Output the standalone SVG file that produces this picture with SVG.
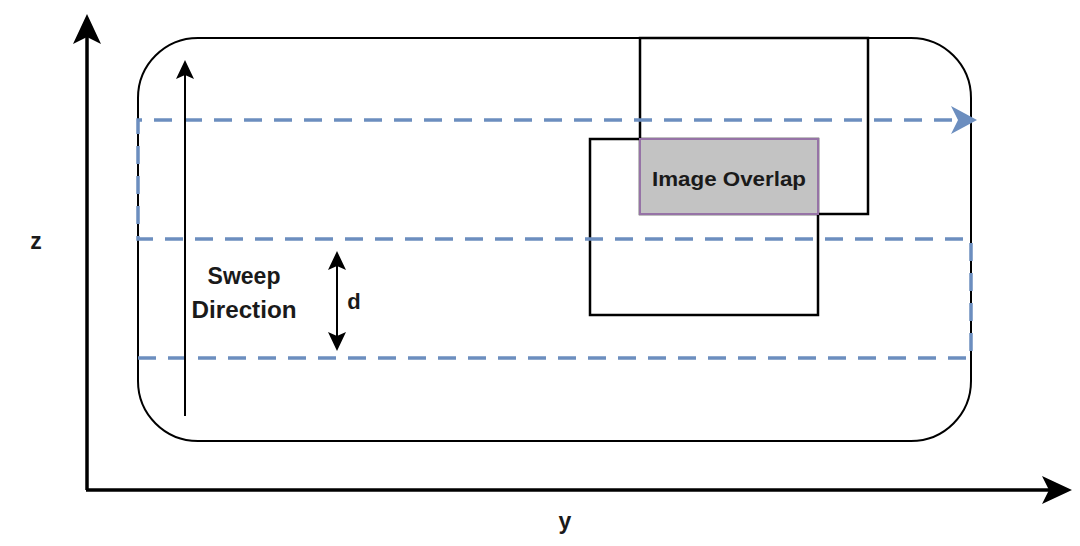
<svg xmlns="http://www.w3.org/2000/svg" width="1080" height="546" viewBox="0 0 1080 546">
<style>
.lbl{font-family:"Liberation Sans",Arial,sans-serif;font-weight:bold;fill:#1a1a1a}
.box{fill:none;stroke:#000;stroke-width:2.5}
.dash{fill:none;stroke:#6c8ebf;stroke-width:3.5;stroke-dasharray:18 12}
</style>
<defs>
<marker id="axHead" markerUnits="userSpaceOnUse" markerWidth="34" markerHeight="32" refX="24" refY="16" orient="auto">
<path d="M0,2 L30,16 L0,30 L7,16 Z" fill="#000"/>
</marker>
<marker id="smHead" markerUnits="userSpaceOnUse" markerWidth="22" markerHeight="20" refX="16" refY="10" orient="auto-start-reverse">
<path d="M0,1 L19,10 L0,19 L4,10 Z" fill="#000"/>
</marker>
<marker id="blHead" markerUnits="userSpaceOnUse" markerWidth="28" markerHeight="30" refX="21" refY="15" orient="auto">
<path d="M0,1 L26,15 L0,29 L7,15 Z" fill="#6c8ebf"/>
</marker>
</defs>
<rect width="1080" height="546" fill="#fff"/>
<g id="area"><rect x="138" y="38" width="833" height="403" rx="60" ry="60" fill="none" stroke="#000" stroke-width="2"/></g>
<g id="image1"><rect class="box" x="640" y="38" width="228" height="176"/></g>
<g id="image2"><rect class="box" x="590" y="139" width="228" height="176"/></g>
<g id="overlap"><rect x="640" y="139" width="178" height="75" fill="#c3c3c3" stroke="#9673a6" stroke-width="2"/>
<text class="lbl" x="729" y="186" font-size="21" text-anchor="middle" textLength="154" lengthAdjust="spacingAndGlyphs">Image Overlap</text></g>
<g id="connectors">
<path class="dash" d="M138,358 L971,358 L971,239 L138,239 L138,120 L972,120" marker-end="url(#blHead)"/>
<line x1="87" y1="490" x2="87" y2="20" stroke="#000" stroke-width="3.5" marker-end="url(#axHead)"/>
<line x1="86" y1="490" x2="1066" y2="490" stroke="#000" stroke-width="3.5" marker-end="url(#axHead)"/>
<line x1="185" y1="416" x2="185" y2="63" stroke="#000" stroke-width="2" marker-end="url(#smHead)"/>
<line x1="337" y1="254" x2="337" y2="348" stroke="#000" stroke-width="2" marker-start="url(#smHead)" marker-end="url(#smHead)"/>
</g>
<g id="labels">
<text class="lbl" x="244" y="284" font-size="23" text-anchor="middle">Sweep</text>
<text class="lbl" x="244" y="318" font-size="23" text-anchor="middle" textLength="105" lengthAdjust="spacingAndGlyphs">Direction</text>
<text class="lbl" x="354" y="309" font-size="22" text-anchor="middle">d</text>
<text class="lbl" x="36" y="249" font-size="23" text-anchor="middle">z</text>
<text class="lbl" x="565" y="529" font-size="23" text-anchor="middle">y</text>
</g>
</svg>
